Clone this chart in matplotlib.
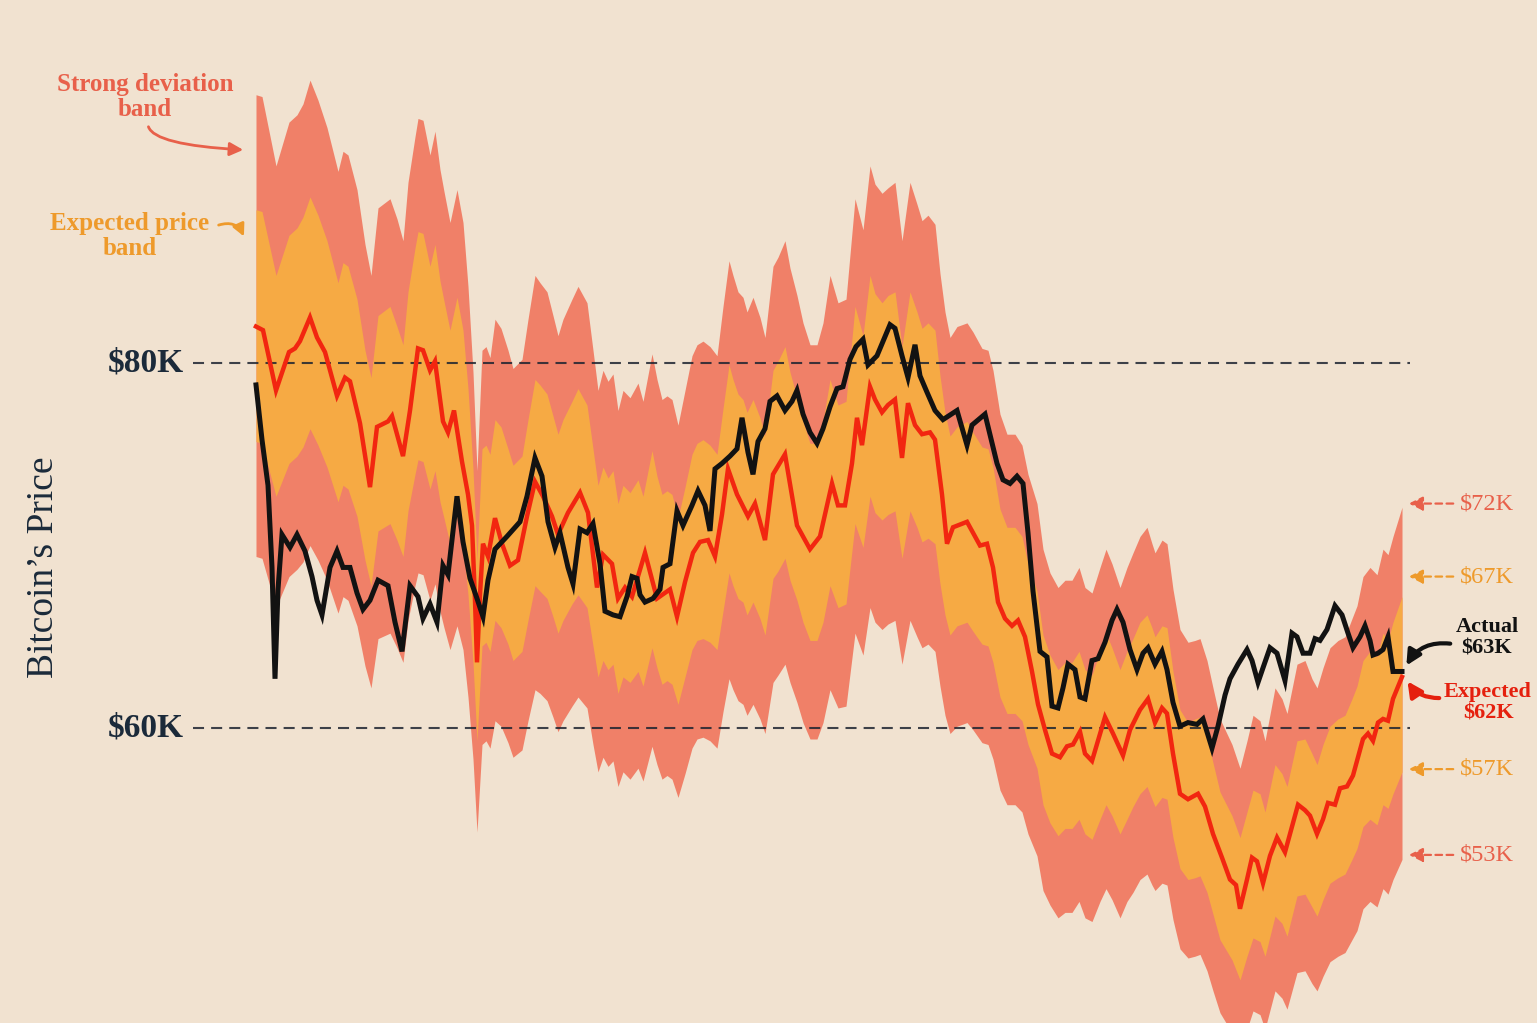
import matplotlib
matplotlib.use('Agg')
import matplotlib.pyplot as plt
from matplotlib.patches import FancyArrowPatch

# ---------------- data (hours since start, prices in $K) ----------------
band_hours = [0,3,10,16.5,20.5,23.5,27,31,35.5,41,
              43.5,46,50.5,54.5,57.5,61,67,70.5,73.5,76,
              79.5,81,83.5,87,89.5,92,94,97,100.5,103.5,
              106,108.5,110.5,113,115,117,119.5,122.5,126,128.5,
              133,136,139.5,142,145.5,148.5,151,153.5,158,161,
              165.5,168.5,171,173.5,176,178.5,181,183.5,187,191,
              193.5,198,200.5,203,205.5,208,211,214.5,218,220.5,
              223.5,227,230.5,233.5,236.5,238.5,241,243.5,245.5,248.5,
              252,254.5,258.5,261,264.5,267,270.5,273.5,277,280.5,
              283.5,287,291,295,299.5,303.5,307,309.5,313,316,
              319.5,323,327,330.5,333,336,339.5,342,344.5,347,
              350.5,355.5,358.5,363,366,368.5,372,375.5,379.5,383,
              386,390.5,393.5,397,401,404.5,408,411.5,414.5,418,
              422,425,428,432,435.5,438.5,442,445.5,448,449.5,
              453,455.5,458.5,462,466,469.5,472,475.5,478.5,482,
              488,492,495.5,498.5,502,504.5,509.5,513,515.5,520.5,
              524.5,528,530.5,533.5,537,541,544.5,548,550.5,553.5,
              557,560.5,563.5,566,568.5,573]

outer_hi = [94.7,94.6,90.8,93.2,93.6,94.2,95.5,94.4,92.9,90.5,
            91.6,91.4,89.5,86.5,84.8,88.5,89.0,87.9,86.7,89.9,
            92.4,93.4,93.3,91.4,92.7,90.6,89.4,87.7,89.5,87.7,
            84.2,79.5,74.1,80.7,80.9,80.3,82.4,81.9,80.7,79.7,
            80.2,82.4,84.8,84.4,83.9,82.6,81.5,82.4,83.5,84.2,
            83.3,80.7,78.5,79.6,79.0,79.4,77.4,78.5,78.1,78.9,
            77.9,80.5,79.1,78.0,78.2,78.0,76.6,78.5,80.4,81.0,
            81.2,80.9,80.4,83.1,85.6,84.8,83.9,83.6,82.8,83.6,
            82.5,81.4,85.3,85.8,86.7,85.2,83.7,82.2,81.0,81.0,
            82.2,84.8,83.3,83.5,89.0,87.3,90.8,89.8,89.3,89.6,
            89.9,86.7,89.9,88.7,87.8,88.1,87.6,84.9,82.8,81.4,
            82.0,82.2,81.7,80.8,80.7,79.6,77.2,76.1,76.1,75.5,
            73.9,72.3,69.8,68.5,67.7,68.1,68.1,68.8,67.7,67.4,
            68.8,69.8,69.0,67.7,68.8,69.6,70.5,71.0,70.1,69.6,
            70.3,70.1,67.6,65.4,64.7,64.8,64.9,63.7,62.2,60.5,
            59.1,57.8,59.3,60.7,60.4,59.3,62.2,61.6,60.8,63.5,
            63.7,62.7,62.2,63.3,64.4,64.8,65.0,66.0,66.7,68.3,
            68.8,68.4,69.8,69.5,70.5,72.1]

inner_hi = [88.4,88.3,84.8,87.0,87.4,88.0,89.1,88.1,86.7,84.4,
            85.5,85.3,83.5,80.7,79.2,82.6,83.1,82.0,81.0,83.9,
            86.3,87.2,87.1,85.3,86.5,84.5,83.4,81.8,83.6,81.8,
            78.6,74.2,69.2,75.3,75.5,75.0,76.9,76.5,75.3,74.4,
            74.9,76.9,79.1,78.8,78.3,77.1,76.1,76.9,77.9,78.6,
            77.7,75.3,73.3,74.3,73.7,74.1,72.3,73.3,72.9,73.6,
            72.7,75.2,73.8,72.8,73.0,72.8,71.5,73.2,75.0,75.6,
            75.8,75.5,75.0,77.5,79.9,79.1,78.3,78.0,77.3,78.0,
            77.0,76.0,79.6,80.1,80.9,79.5,78.1,76.8,75.6,75.6,
            76.8,79.1,77.7,77.9,83.1,81.5,84.8,83.8,83.3,83.7,
            83.9,80.9,83.9,82.8,81.9,82.2,81.8,79.3,77.3,76.0,
            76.5,76.8,76.2,75.4,75.3,74.3,72.0,71.0,71.0,70.5,
            69.0,67.5,65.1,64.0,63.2,63.6,63.6,64.2,63.2,62.9,
            64.2,65.2,64.4,63.2,64.2,64.9,65.8,66.2,65.5,65.0,
            65.6,65.5,63.1,61.0,60.3,60.5,60.6,59.5,58.1,56.5,
            55.2,54.0,55.4,56.6,56.4,55.4,58.0,57.5,56.8,59.3,
            59.4,58.6,58.0,59.1,60.1,60.5,60.7,61.6,62.3,63.7,
            64.2,63.9,65.2,64.8,65.8,67.2]

inner_lo = [75.7,75.6,72.7,74.5,74.9,75.4,76.4,75.5,74.3,72.4,
            73.3,73.1,71.6,69.2,67.8,70.8,71.2,70.3,69.4,71.9,
            73.9,74.7,74.6,73.1,74.1,72.4,71.5,70.1,71.6,70.1,
            67.3,63.6,59.3,64.5,64.7,64.2,65.9,65.5,64.6,63.7,
            64.2,65.9,67.8,67.5,67.1,66.1,65.2,65.9,66.8,67.3,
            66.6,64.5,62.8,63.7,63.2,63.5,61.9,62.8,62.5,63.1,
            62.3,64.4,63.3,62.4,62.6,62.4,61.3,62.8,64.3,64.8,
            64.9,64.7,64.3,66.4,68.5,67.8,67.1,66.9,66.2,66.9,
            66.0,65.1,68.2,68.6,69.3,68.1,67.0,65.8,64.8,64.8,
            65.8,67.8,66.6,66.8,71.2,69.9,72.7,71.8,71.4,71.7,
            71.9,69.3,71.9,71.0,70.2,70.4,70.1,67.9,66.2,65.1,
            65.6,65.8,65.3,64.6,64.5,63.6,61.7,60.8,60.8,60.4,
            59.1,57.8,55.8,54.8,54.1,54.5,54.5,55.0,54.2,53.9,
            55.0,55.8,55.2,54.2,55.0,55.7,56.4,56.8,56.1,55.7,
            56.2,56.1,54.0,52.3,51.7,51.8,51.9,51.0,49.8,48.4,
            47.3,46.2,47.5,48.5,48.3,47.5,49.7,49.3,48.6,50.8,
            50.9,50.2,49.7,50.6,51.5,51.8,52.0,52.8,53.4,54.6,
            55.0,54.7,55.8,55.6,56.4,57.6]

outer_lo = [69.4,69.3,66.6,68.3,68.7,69.1,70.0,69.2,68.1,66.3,
            67.2,67.0,65.6,63.4,62.2,64.9,65.2,64.4,63.6,65.9,
            67.8,68.5,68.4,67.0,67.9,66.4,65.5,64.3,65.6,64.3,
            61.7,58.3,54.3,59.1,59.3,58.9,60.4,60.1,59.2,58.4,
            58.8,60.4,62.1,61.9,61.5,60.6,59.8,60.4,61.2,61.7,
            61.1,59.1,57.6,58.4,57.9,58.2,56.8,57.6,57.2,57.8,
            57.1,59.0,58.0,57.2,57.4,57.2,56.2,57.5,58.9,59.4,
            59.5,59.3,58.9,60.9,62.7,62.1,61.5,61.3,60.7,61.3,
            60.5,59.7,62.5,62.9,63.5,62.5,61.4,60.3,59.4,59.4,
            60.3,62.1,61.1,61.2,65.2,64.0,66.6,65.8,65.4,65.7,
            65.9,63.5,65.9,65.0,64.4,64.6,64.2,62.3,60.7,59.7,
            60.1,60.3,59.9,59.2,59.1,58.3,56.6,55.8,55.8,55.4,
            54.2,53.0,51.1,50.3,49.6,49.9,49.9,50.5,49.6,49.4,
            50.5,51.2,50.6,49.6,50.5,51.0,51.7,52.0,51.4,51.1,
            51.5,51.4,49.5,47.9,47.4,47.5,47.6,46.7,45.6,44.4,
            43.3,42.4,43.5,44.5,44.3,43.5,45.6,45.2,44.6,46.6,
            46.7,46.0,45.6,46.4,47.2,47.5,47.7,48.4,48.9,50.1,
            50.5,50.2,51.2,50.9,51.7,52.8]

expected_hours = [0,3.5,10,16.5,19.5,22,27,30.5,34.5,40.5,
                  44.5,47,52,57,60.5,66,68,73.5,77,81,
                  83.5,87,89.5,93.5,96,99,103,106,108,109.5,
                  110.5,112,113.5,116,119.5,123,127,131,135.5,139.5,
                  143.5,148,151,156,162,166,170.5,173.5,178,181,
                  184.5,188,194.5,200.5,207,210.5,214.5,218.5,222,226,
                  229.5,233,236,240.5,246,249.5,254.5,258.5,264.5,270.5,
                  277,282,288,291,294.5,298,300.5,303,307,309.5,
                  313,316,319.5,323,326,329.5,333,337,339.5,343,
                  345.5,348.5,355.5,358.5,362,365.5,368.5,371,374.5,378,
                  381,384.5,388,391,394.5,398,402,405.5,408.5,412,
                  414.5,418,421,424.5,428.5,433.5,437,442,446,449.5,
                  453,455.5,458.5,462,466,471,474.5,478.5,483,487,
                  490,492,495.5,498,500.5,503.5,507,510.5,514.5,518,
                  521,524.5,527,530.5,533.5,536,539.5,542,545.5,548.5,
                  551,553.5,556,558.5,561,563.5,566,568.5,573]
expected_price = [82.0,81.8,78.5,80.6,80.8,81.2,82.5,81.4,80.6,78.2,
                  79.2,79.0,76.7,73.2,76.5,76.8,77.1,74.9,77.4,80.8,
                  80.7,79.6,80.1,76.8,76.2,77.4,74.6,72.8,71.1,67.0,
                  63.6,67.3,70.1,69.4,71.5,70.1,68.9,69.2,71.6,73.5,
                  72.7,71.6,70.6,71.8,72.9,71.8,67.7,69.5,69.0,67.1,
                  67.7,67.2,69.6,67.1,67.6,66.1,68.0,69.6,70.2,70.3,
                  69.4,71.7,74.2,72.8,71.6,72.3,70.3,73.9,75.0,71.1,
                  69.8,70.5,73.4,72.2,72.2,74.5,77.0,75.5,78.7,78.0,
                  77.3,77.7,78.0,74.8,77.8,76.6,76.1,76.2,75.8,72.8,
                  70.1,71.0,71.3,70.7,70.0,70.1,68.8,66.9,66.0,65.6,
                  65.9,65.0,63.1,61.3,59.9,58.6,58.4,59.0,59.1,59.8,
                  58.6,58.2,59.3,60.6,59.7,58.5,59.9,61.0,61.6,60.3,
                  61.1,60.8,58.6,56.4,56.1,56.4,55.7,54.2,52.9,51.7,
                  51.4,50.1,51.7,52.9,52.7,51.5,53.0,54.0,53.2,54.6,
                  55.8,55.5,55.2,54.2,55.0,55.9,55.8,56.7,56.8,57.4,
                  58.4,59.4,59.7,59.3,60.3,60.5,60.4,61.6,62.8]

actual_hours = [0,3,6,8,9.5,11,13,17,20.5,24.5,
                28,30.5,33,37,40.5,43.5,47,50.5,53.5,57,
                61,66,69.5,73,77,81,83.5,87,90.5,93.5,
                96,100.5,103.5,107,110.5,113.5,116,119.5,125.5,132,
                135.5,139.5,143,146,149.5,152,156,158.5,162,165.5,
                168.5,172,174.5,178.5,182,185.5,188,190.5,192,194.5,
                198.5,202,203.5,207,210.5,213.5,218,221,224.5,227,
                229.5,233,237,240.5,243,246,248.5,251,254.5,257,
                260.5,264.5,268,270.5,273.5,277,280.5,283.5,287,290.5,
                293.5,297,300,303.5,306,310.5,317,319.5,323,326,
                329.5,332,335.5,339.5,343.5,350.5,355.5,358,364.5,370.5,
                373.5,377,380.5,383.5,386,388.5,392,395.5,398,401,
                403.5,406,409.5,412,414.5,418,421,424.5,428,430.5,
                433.5,437,440.5,443.5,446,449.5,453,455.5,458.5,462,
                466,470.5,473.5,478,481,484.5,487,491,495.5,498,
                501,503.5,507,510.5,514.5,518,520.5,523.5,527,529.5,
                532,535.5,539.5,543,546,548.5,552,554.5,557,558.5,
                561,563.5,566,568.5,573]
actual_price = [78.8,75.8,73.3,68.8,62.7,67.6,70.6,69.9,70.6,69.7,
                68.3,67.0,66.2,68.8,69.7,68.8,68.8,67.4,66.5,67.0,
                68.1,67.8,65.8,64.2,67.8,67.2,66.0,66.8,65.8,68.9,
                68.4,72.7,70.2,68.2,67.1,66.1,68.1,69.8,70.5,71.3,
                72.7,74.8,73.8,71.3,69.9,70.7,68.8,67.9,70.9,70.7,
                71.2,69.0,66.4,66.2,66.1,67.2,68.3,68.2,67.3,66.9,
                67.1,67.6,68.8,69.0,71.9,71.1,72.2,73.0,72.2,70.8,
                74.2,74.5,74.9,75.3,77.0,75.1,73.9,75.7,76.4,77.9,
                78.2,77.4,77.9,78.5,77.2,76.2,75.6,76.4,77.6,78.6,
                78.7,80.2,80.9,81.3,79.9,80.4,82.1,81.9,80.4,79.2,
                81.0,79.3,78.4,77.4,76.9,77.4,75.5,76.6,77.2,74.5,
                73.6,73.4,73.8,73.4,70.7,67.5,64.2,63.9,61.2,61.1,
                62.2,63.5,63.2,61.7,61.6,63.7,63.8,64.7,65.9,66.5,
                65.8,64.3,63.2,64.1,64.4,63.5,64.2,63.2,61.4,60.1,
                60.3,60.2,60.5,58.9,60.1,61.8,62.7,63.5,64.3,63.7,
                62.5,63.3,64.4,64.1,62.6,65.2,65.0,64.1,64.1,64.9,
                64.8,65.4,66.7,66.2,65.2,64.4,65.0,65.6,64.8,64.0,
                64.1,64.3,65.0,63.1,63.1]

gridline_values = [80, 60]
gridline_labels = ['$80K', '$60K']
band_end_values = [72.3, 68.3, 57.75, 53.05]
band_end_labels = ['$72K', '$67K', '$57K', '$53K']

# ---------------- style ----------------
BG = '#F1E2D0'; SALMON = '#F08068'; ORANGE = '#F6AA44'
RED = '#F22610'; BLACK = '#121212'; NAVY = '#1B2A3A'
TXT_SAL = '#E8604A'; TXT_OR = '#EE9A2B'; TXT_RED = '#E5200E'
SERIF = ['Liberation Serif', 'DejaVu Serif']
W, H = 1537, 1023

fig = plt.figure(figsize=(W / 100, H / 100), dpi=100)
fig.patch.set_facecolor(BG)
ax = fig.add_axes([0, 0, 1, 1])
ax.set_facecolor(BG)
ax.set_xlim(-128, 640.5)
ax.set_ylim(43.84, 99.89)
ax.axis('off')

ax.fill_between(band_hours, outer_lo, outer_hi, color=SALMON, lw=0, zorder=1)
ax.fill_between(band_hours, inner_lo, inner_hi, color=ORANGE, lw=0, zorder=2)
for v, lab in zip(gridline_values, gridline_labels):
    ax.plot([-31.5, 577], [v, v], color='#1d2430', lw=1.5, alpha=0.85,
            dashes=(5.3, 3.4), zorder=3)
    ax.text(-36, v, lab, ha='right', va='center', fontsize=24, fontweight='bold',
            color=NAVY, family=SERIF)
ax.plot(expected_hours, expected_price, color=RED, lw=3.2, zorder=4, solid_joinstyle='miter')
ax.plot(actual_hours, actual_price, color=BLACK, lw=3.6, zorder=5, solid_joinstyle='miter')

fig.text(44 / W, 1 - 567 / H, 'Bitcoin\u2019s Price', rotation=90, ha='center', va='center',
         fontsize=27, color=NAVY, family=SERIF)

def P(x, y):
    return (x, H - y)

fig.text(145 / W, 1 - 97 / H, 'Strong deviation\nband', ha='center', va='center', fontsize=18,
         fontweight='bold', color=TXT_SAL, family=SERIF, linespacing=1.1)
fig.text(130 / W, 1 - 236 / H, 'Expected price\nband', ha='center', va='center', fontsize=18,
         fontweight='bold', color=TXT_OR, family=SERIF, linespacing=1.1)
fig.patches.append(FancyArrowPatch(P(148, 124), P(246, 150),
    connectionstyle='angle3,angleA=-90,angleB=-3', arrowstyle='-|>', mutation_scale=20,
    color=TXT_SAL, lw=2.0, transform=None))
fig.patches.append(FancyArrowPatch(P(216, 226), P(245, 239), connectionstyle='arc3,rad=-0.5',
    arrowstyle='-|>', mutation_scale=18, color=TXT_OR, lw=2.0, transform=None))

band_label_colors = [TXT_SAL, TXT_OR, TXT_OR, TXT_SAL]
for v, lab, c in zip(band_end_values, band_end_labels, band_label_colors):
    ax.annotate('', xy=(575, v), xytext=(600, v),
                arrowprops=dict(arrowstyle='-|>', color=c, lw=1.6, linestyle=(0, (3, 2)),
                                mutation_scale=21))
    ax.text(602, v, lab, ha='left', va='center', fontsize=17.5, color=c, family=SERIF)

fig.text(1487 / W, 1 - 638 / H, 'Actual\n$63K', ha='center', va='center', fontsize=16,
         fontweight='bold', color=BLACK, family=SERIF, linespacing=1.12)
fig.text(1488 / W, 1 - 703 / H, 'Expected\n$62K', ha='center', va='center', fontsize=16,
         fontweight='bold', color=TXT_RED, family=SERIF, linespacing=1.12)
fig.patches.append(FancyArrowPatch(P(1453, 644), P(1405, 668), connectionstyle='arc3,rad=0.35',
    arrowstyle='-|>', mutation_scale=22, color=BLACK, lw=3.0, transform=None))
fig.patches.append(FancyArrowPatch(P(1442, 698), P(1406, 679), connectionstyle='arc3,rad=-0.3',
    arrowstyle='-|>', mutation_scale=22, color=TXT_RED, lw=3.0, transform=None))

fig.savefig('out.png', dpi=100, facecolor=BG)
